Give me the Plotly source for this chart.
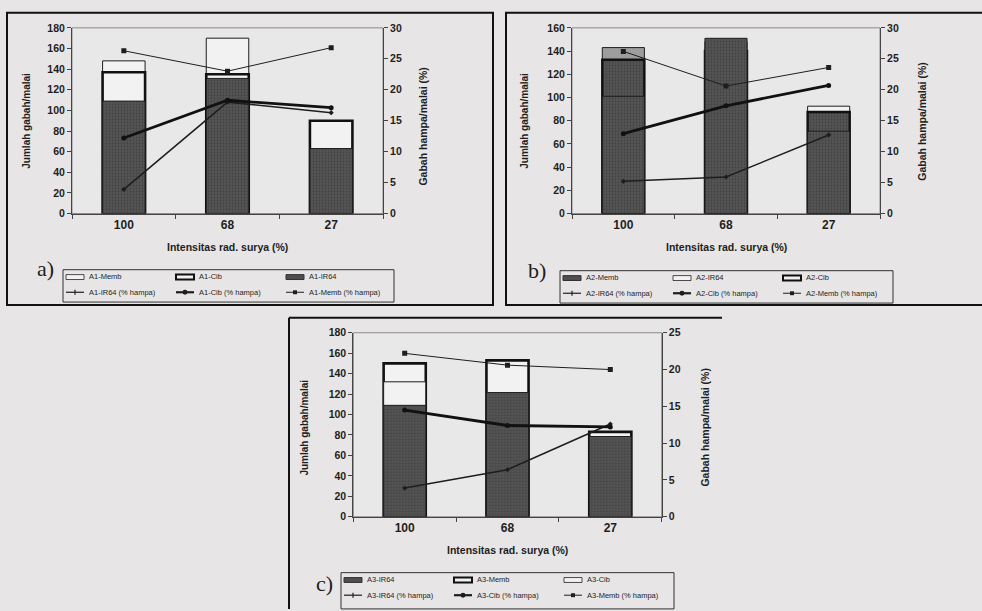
import plotly.graph_objects as go

W, H = 982, 611


def px(x):
    return x / W


def py(y):
    return 1 - y / H


cats = ["100", "68", "27"]

# ---- a) A1 : grains per panicle (overlapping columns) and % empty grain ----
a_memb = [148, 170, 85]
a_cib = [137, 135, 90]
a_ir64 = [109, 131, 63]
a_ir64_h = [3.9, 18.0, 16.3]
a_cib_h = [12.2, 18.3, 17.1]
a_memb_h = [26.3, 23.0, 26.8]

# ---- b) A2 ----
b_memb = [101, 151, 71]
b_ir64 = [143, 148, 92.5]
b_cib = [132.5, 140, 87.5]
b_ir64_h = [5.2, 5.9, 12.7]
b_cib_h = [12.9, 17.4, 20.7]
b_memb_h = [26.2, 20.6, 23.6]

# ---- c) A3 ----
c_ir64 = [109, 121.5, 78.5]
c_memb = [150, 153, 83]
c_cib = [132, 118, 76]
c_ir64_h = [3.9, 6.4, 12.6]
c_cib_h = [14.5, 12.4, 12.2]
c_memb_h = [22.2, 20.6, 20.0]

FONT = "Liberation Sans, Arial, sans-serif"
INK = "#1e1e1e"
BG = "#e7e5e5"
WHITE = "#f3f2f2"

DARK = dict(color="#4e4e4e",
            pattern=dict(shape=".", fgcolor="#2e2e2e", bgcolor="#555555",
                         size=3, solidity=0.35),
            line=dict(color=INK, width=1))
THIN = dict(color=WHITE, line=dict(color=INK, width=1))
THICK = dict(color=WHITE, line=dict(color="#111111", width=2.6))

LINE_STYLES = {
    "ir": dict(line=dict(color=INK, width=1.5),
               marker=dict(symbol="diamond", size=4, color=INK)),
    "cib": dict(line=dict(color="#111111", width=2.8),
                marker=dict(symbol="circle", size=5, color="#111111")),
    "memb": dict(line=dict(color=INK, width=1),
                 marker=dict(symbol="square", size=5, color=INK)),
}

fig = go.Figure()


def add_bar(name, vals, marker, xa, ya):
    fig.add_trace(go.Bar(x=cats, y=vals, name=name, xaxis=xa, yaxis=ya,
                         width=0.41, marker=marker, showlegend=False))


def add_line(name, vals, kind, xa, ya):
    st = LINE_STYLES[kind]
    fig.add_trace(go.Scatter(x=cats, y=vals, name=name, xaxis=xa, yaxis=ya,
                             mode="lines+markers", line=st["line"],
                             marker=st["marker"], showlegend=False))


# panel a
add_bar("A1-Memb", a_memb, THIN, "x", "y")
add_bar("A1-Cib", a_cib, THICK, "x", "y")
add_bar("A1-IR64", a_ir64, DARK, "x", "y")
add_line("A1-IR64 (% hampa)", a_ir64_h, "ir", "x", "y2")
add_line("A1-Cib (% hampa)", a_cib_h, "cib", "x", "y2")
add_line("A1-Memb (% hampa)", a_memb_h, "memb", "x", "y2")

# panel b
b_top = dict(color=["#9d9d9d", WHITE, WHITE], line=dict(color=INK, width=1))
b_mid = dict(DARK, line=dict(color="#111111", width=2.4))
add_bar("A2-IR64", b_ir64, b_top, "x2", "y3")
add_bar("A2-Cib", b_cib, b_mid, "x2", "y3")
add_bar("A2-Memb", b_memb, DARK, "x2", "y3")
add_line("A2-IR64 (% hampa)", b_ir64_h, "ir", "x2", "y4")
add_line("A2-Cib (% hampa)", b_cib_h, "cib", "x2", "y4")
add_line("A2-Memb (% hampa)", b_memb_h, "memb", "x2", "y4")

# panel c
add_bar("A3-Memb", c_memb, THICK, "x3", "y5")
add_bar("A3-Cib", c_cib, THIN, "x3", "y5")
add_bar("A3-IR64", c_ir64, DARK, "x3", "y5")
add_line("A3-IR64 (% hampa)", c_ir64_h, "ir", "x3", "y6")
add_line("A3-Cib (% hampa)", c_cib_h, "cib", "x3", "y6")
add_line("A3-Memb (% hampa)", c_memb_h, "memb", "x3", "y6")

tickfont = dict(family=FONT, size=10.5, color=INK, weight="bold")


def xaxis(dom, anchor):
    return dict(domain=dom, anchor=anchor, type="category",
                tickson="boundaries", ticks="outside", ticklen=4,
                tickcolor="#444", showline=True, linecolor="#444",
                linewidth=1, showgrid=False, zeroline=False,
                tickfont=dict(family=FONT, size=12, color=INK, weight="bold"),
                fixedrange=True)


def yleft(dom, anchor, top):
    return dict(domain=dom, anchor=anchor, range=[0, top], dtick=20,
                ticks="outside", ticklen=4, tickcolor="#444",
                showline=True, linecolor="#444", linewidth=1,
                showgrid=False, zeroline=False, tickfont=tickfont)


def yright(over, anchor, top):
    return dict(overlaying=over, anchor=anchor, side="right",
                range=[0, top], dtick=5, ticks="outside", ticklen=4,
                tickcolor="#444", showline=True, linecolor="#444",
                linewidth=1, showgrid=False, zeroline=False,
                tickfont=tickfont)


ya = [py(211.7), py(22.3)]
yc = [py(521), py(333.3)]

fig.update_layout(
    width=W, height=H, margin=dict(l=0, r=0, t=0, b=0),
    paper_bgcolor=BG, plot_bgcolor="#e9e8e8",
    barmode="overlay", showlegend=False,
    xaxis=xaxis([px(72), px(383)], "y"),
    yaxis=yleft(ya, "x", 180),
    yaxis2=yright("y", "x", 30),
    xaxis2=xaxis([px(572), px(880)], "y3"),
    yaxis3=yleft(ya, "x2", 160),
    yaxis4=yright("y3", "x2", 30),
    xaxis3=xaxis([px(353.3), px(661.7)], "y5"),
    yaxis5=yleft(yc, "x3", 180),
    yaxis6=yright("y5", "x3", 25),
)

shapes = []
annots = []

# plot-area borders
for xr, yr in (("x", "y"), ("x2", "y3"), ("x3", "y5")):
    shapes.append(dict(type="rect", xref=f"{xr} domain", yref=f"{yr} domain",
                       x0=0, x1=1, y0=0, y1=1, layer="below",
                       line=dict(color="#8a8a8a", width=1)))

# outer frames of the three panels
frame = dict(color="#111111", width=2)
shapes.append(dict(type="rect", xref="paper", yref="paper",
                   x0=px(7), x1=px(493), y0=py(305), y1=py(7), line=frame))
shapes.append(dict(type="rect", xref="paper", yref="paper",
                   x0=px(506), x1=px(995), y0=py(305), y1=py(7), line=frame))
shapes.append(dict(type="line", xref="paper", yref="paper",
                   x0=px(289), x1=px(722), y0=py(318), y1=py(318), line=frame))
shapes.append(dict(type="line", xref="paper", yref="paper",
                   x0=px(289), x1=px(289), y0=py(318), y1=py(615), line=frame))


def text(x, y, s, size, rot=0, weight="bold", xanchor="center", family=FONT):
    annots.append(dict(x=px(x), y=py(y), xref="paper", yref="paper", text=s,
                       showarrow=False, textangle=rot, xanchor=xanchor,
                       yanchor="middle",
                       font=dict(family=family, size=size, color=INK,
                                 weight=weight)))


# axis titles and panel letters
for cx, cy, ly, lx, rx, ry, letter, lpos in (
        (227, 246, 117, 27, 423, 123, "a)", (45, 268)),
        (726, 246, 117, 525, 922, 118, "b)", (537, 270)),
        (507, 555, 430, 305, 705, 430, "c)", (324, 589))):
    text(cx, cy, "Intensitas rad. surya (%)", 10.5)
    text(lx, ly, "Jumlah gabah/malai", 10, rot=-90)
    text(rx, ry, "Gabah hampa/malai (%)", 10.5, rot=-90)
    text(lpos[0], lpos[1], letter, 22, weight="normal",
         family="Liberation Serif, DejaVu Serif, serif")


def legend(L, T, R, B, row1, row2):
    shapes.append(dict(type="rect", xref="paper", yref="paper",
                       x0=px(L), x1=px(R), y0=py(B), y1=py(T),
                       line=dict(color="#333", width=1), fillcolor=BG))
    offs = (2, 112, 222)
    for off, (label, kind) in zip(offs, row1):
        x0 = L + off
        if kind == "dark":
            sty = dict(fillcolor="#4e4e4e", line=dict(color="#333", width=1))
        elif kind == "thick":
            sty = dict(fillcolor=WHITE, line=dict(color="#111", width=2))
        else:
            sty = dict(fillcolor=WHITE, line=dict(color="#222", width=0.8))
        shapes.append(dict(type="rect", xref="paper", yref="paper",
                           x0=px(x0 + 1), x1=px(x0 + 19),
                           y0=py(T + 10), y1=py(T + 5), **sty))
        text(x0 + 22, T + 7, label, 7.5, weight="normal", xanchor="left")
    for off, (label, kind) in zip(offs, row2):
        x0 = L + off
        yy = T + 23
        w = {"ir": 1.2, "cib": 2.2, "memb": 1}[kind]
        shapes.append(dict(type="line", xref="paper", yref="paper",
                           x0=px(x0 + 1), x1=px(x0 + 19), y0=py(yy), y1=py(yy),
                           line=dict(color=INK, width=w)))
        cxm = x0 + 10
        if kind == "cib":
            shapes.append(dict(type="circle", xref="paper", yref="paper",
                               x0=px(cxm - 2.5), x1=px(cxm + 2.5),
                               y0=py(yy + 2.5), y1=py(yy - 2.5),
                               fillcolor=INK, line=dict(width=0)))
        elif kind == "memb":
            shapes.append(dict(type="rect", xref="paper", yref="paper",
                               x0=px(cxm - 2), x1=px(cxm + 2),
                               y0=py(yy + 2), y1=py(yy - 2),
                               fillcolor=INK, line=dict(width=0)))
        else:
            shapes.append(dict(type="line", xref="paper", yref="paper",
                               x0=px(cxm), x1=px(cxm),
                               y0=py(yy + 2.5), y1=py(yy - 2.5),
                               line=dict(color=INK, width=1.2)))
        text(x0 + 22, yy, label, 7.5, weight="normal", xanchor="left")


legend(63, 269, 394, 302,
       [("A1-Memb", "thin"), ("A1-Cib", "thick"), ("A1-IR64", "dark")],
       [("A1-IR64 (% hampa)", "ir"), ("A1-Cib (% hampa)", "cib"),
        ("A1-Memb (% hampa)", "memb")])
legend(560, 270, 893, 303,
       [("A2-Memb", "dark"), ("A2-IR64", "thin"), ("A2-Cib", "thick")],
       [("A2-IR64 (% hampa)", "ir"), ("A2-Cib (% hampa)", "cib"),
        ("A2-Memb (% hampa)", "memb")])
legend(341, 578, 674, 615,
       [("A3-IR64", "dark"), ("A3-Memb", "thick"), ("A3-Cib", "thin")],
       [("A3-IR64 (% hampa)", "ir"), ("A3-Cib (% hampa)", "cib"),
        ("A3-Memb (% hampa)", "memb")])

fig.update_layout(shapes=shapes, annotations=annots)
fig.write_html("out.html")
